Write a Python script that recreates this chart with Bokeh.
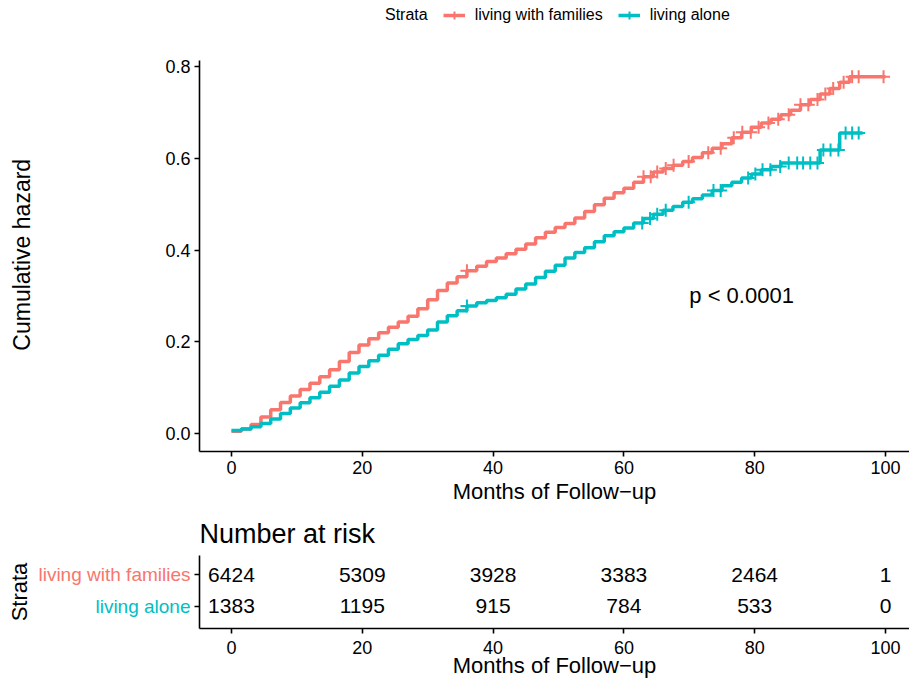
import numpy as np
from bokeh.plotting import figure
from bokeh.models import (ColumnDataSource, Legend, LegendItem, FixedTicker,
                          PrintfTickFormatter, Range1d)
from bokeh.layouts import column, row
from bokeh.embed import file_html
from bokeh.resources import INLINE
from bokeh.core.properties import value

# ---------------- data ----------------
strata = ["living with families", "living alone"]
colors = ["#F8766D", "#00BFC4"]

fam_time = [0, 1.5, 3, 4.5, 6, 7.5, 9, 10.5, 12, 13.5, 15, 16.5, 18, 19.5, 21, 22.5,
            24, 25.5, 27, 28.5, 30, 31.5, 33, 34.5, 36, 37.5, 39, 40.5, 42, 43.5, 45,
            46.5, 48, 49.5, 51, 52.5, 54, 55.5, 57, 58.5, 60, 61.5, 63, 64.5, 66, 67.5,
            69, 70.5, 72, 73.5, 75, 76.5, 78, 79.5, 81, 82.5, 84, 85.5, 87, 88.5, 90,
            91.5, 93, 94.5, 100]
fam_haz = [0.005, 0.010, 0.020, 0.036, 0.052, 0.068, 0.082, 0.096, 0.110, 0.124,
           0.139, 0.157, 0.177, 0.193, 0.207, 0.220, 0.232, 0.243, 0.256, 0.272,
           0.292, 0.312, 0.328, 0.342, 0.355, 0.365, 0.375, 0.383, 0.392, 0.402,
           0.413, 0.427, 0.439, 0.449, 0.458, 0.470, 0.484, 0.499, 0.513, 0.525,
           0.535, 0.548, 0.560, 0.570, 0.578, 0.585, 0.593, 0.602, 0.612, 0.622,
           0.632, 0.645, 0.657, 0.668, 0.677, 0.685, 0.695, 0.705, 0.717, 0.728,
           0.740, 0.752, 0.766, 0.778, 0.778]

alone_time = [0, 1.5, 3, 4.5, 6, 7.5, 9, 10.5, 12, 13.5, 15, 16.5, 18, 19.5, 21, 22.5,
              24, 25.5, 27, 28.5, 30, 31.5, 33, 34.5, 36, 37.5, 39, 40.5, 42, 43.5, 45,
              46.5, 48, 49.5, 51, 52.5, 54, 55.5, 57, 58.5, 60, 61.5, 63, 64.5, 66,
              67.5, 69, 70.5, 72, 73.5, 75, 76.5, 78, 79.5, 81, 82.5, 84, 90, 93, 96.5]
alone_haz = [0.007, 0.010, 0.015, 0.022, 0.032, 0.044, 0.056, 0.067, 0.078, 0.090,
             0.103, 0.117, 0.132, 0.146, 0.159, 0.171, 0.184, 0.196, 0.205, 0.214,
             0.226, 0.243, 0.257, 0.268, 0.278, 0.285, 0.290, 0.296, 0.304, 0.315,
             0.326, 0.340, 0.354, 0.367, 0.383, 0.395, 0.405, 0.418, 0.431, 0.440,
             0.448, 0.459, 0.469, 0.478, 0.487, 0.495, 0.504, 0.512, 0.520, 0.530,
             0.540, 0.548, 0.557, 0.566, 0.575, 0.582, 0.590, 0.618, 0.655, 0.655]

fam_censor = [36, 63, 64.1, 65.1, 66.4, 67.6, 69.9, 72.9, 74.8, 76.8, 78.1, 79.4,
              80.6, 82.1, 83.6, 85.2, 87, 88.2, 89.6, 90.8, 92, 93.6, 94.9, 95.9, 99.7]
alone_censor = [36, 62.8, 64, 65.1, 66.4, 69.9, 73.7, 74.8, 79, 80.1, 81.2, 82.4,
                83.9, 85.2, 86.5, 87.4, 88.5, 89.6, 90.5, 91.6, 92.8, 93.9, 94.9, 95.9]

risk_times = [0, 20, 40, 60, 80, 100]
fam_risk = [6424, 5309, 3928, 3383, 2464, 1]
alone_risk = [1383, 1195, 915, 784, 533, 0]
risk_rows = [2, 1]

pval_text = "p < 0.0001"
pval_x, pval_y = 70, 0.30

x_ticks = [0, 20, 40, 60, 80, 100]
y_ticks = [0.0, 0.2, 0.4, 0.6, 0.8]
x_label = "Months of Follow\u2212up"
y_label = "Cumulative hazard"
risk_title = "Number at risk"
legend_title = "Strata"

# ---------------- layout / styling ----------------
FONT = "Liberation Sans"
W, H = 909, 682
X_START, X_END = -4.89, 103.67
Y_AXIS_LO, Y_AXIS_HI = -0.039, 0.814   # drawn extent of the y axis
Y_RANGE_HI = 0.944                     # frame reaches the top (legend inside)
FRAME_LEFT = 199
TOP_H = 508
LAB_W = 193
# the frame also holds the legend strip, so the axis title is nudged down to
# the middle of the drawn axis with trailing no-break spaces
Y_LABEL_PAD = "\u00a0" * 9


def style_axes(p):
    for ax in (p.xaxis[0], p.yaxis[0]):
        ax.axis_line_color = "black"
        ax.axis_line_width = 1.6
        ax.major_tick_line_color = "black"
        ax.major_tick_line_width = 1.6
        ax.major_tick_out = 5
        ax.major_tick_in = 0
        ax.minor_tick_line_color = None
        ax.major_label_text_font = FONT
        ax.major_label_text_font_size = "18px"
        ax.major_label_text_color = "black"
        ax.major_label_text_line_height = 1.0
        ax.axis_label_text_font = FONT
        ax.axis_label_text_font_size = "22px"
        ax.axis_label_text_font_style = "normal"
        ax.axis_label_text_color = "black"
        ax.axis_label_text_line_height = 1.0
    p.xgrid.visible = False
    p.ygrid.visible = False
    p.outline_line_color = None


def step_value(times, haz, t):
    idx = np.searchsorted(np.asarray(times), np.asarray(t), side="right") - 1
    return np.asarray(haz)[idx]


# ---------------- main plot ----------------
p = figure(width=W, height=TOP_H, output_backend="svg", toolbar_location=None,
           x_range=Range1d(X_START, X_END), y_range=Range1d(Y_AXIS_LO, Y_RANGE_HI),
           min_border_left=FRAME_LEFT, min_border_right=0, min_border_top=0,
           min_border_bottom=57)
style_axes(p)
p.xaxis[0].ticker = FixedTicker(ticks=x_ticks)
p.yaxis[0].ticker = FixedTicker(ticks=y_ticks)
p.yaxis[0].bounds = (Y_AXIS_LO, Y_AXIS_HI)
p.yaxis[0].formatter = PrintfTickFormatter(format="%.1f")
p.xaxis[0].major_label_standoff = 4
p.xaxis[0].axis_label_standoff = 2
p.yaxis[0].major_label_standoff = 4
p.yaxis[0].axis_label_standoff = 127
p.yaxis[0].axis_label_text_font_size = "23px"
p.xaxis[0].axis_label = x_label
p.yaxis[0].axis_label = y_label + Y_LABEL_PAD

renderers = []
for times, haz, cens, col in ((fam_time, fam_haz, fam_censor, colors[0]),
                              (alone_time, alone_haz, alone_censor, colors[1])):
    rl = p.step(x=times, y=haz, mode="after", line_color=col, line_width=3.5)
    rc = p.scatter(x=cens, y=step_value(times, haz, cens), marker="cross",
                   size=13, line_color=col, line_width=2)
    renderers.append([rl, rc])

p.text(x=[pval_x], y=[pval_y], text=[pval_text], text_font=value(FONT),
       text_font_size="22px", text_align="left", text_baseline="middle",
       text_color="black")

items = [LegendItem(label=legend_title, renderers=[])]
items += [LegendItem(label=strata[i], renderers=renderers[i]) for i in range(2)]
legend = Legend(items=items, orientation="horizontal", location=(154, 426))
legend.label_text_font = FONT
legend.label_text_font_size = "16px"
legend.label_text_color = "black"
legend.glyph_width = 22
legend.glyph_height = 20
legend.label_height = 20
legend.label_standoff = 10
legend.spacing = 15
legend.padding = 0
legend.margin = 0
legend.border_line_color = None
legend.background_fill_alpha = 0
p.add_layout(legend, "center")

# ---------------- risk table ----------------
RISK_H = H - TOP_H
RISK_TOP, RISK_BOTTOM = 47, 54
y_rng = (0.3, 2.6)

lab = figure(width=LAB_W, height=RISK_H, output_backend="svg", toolbar_location=None,
             x_range=Range1d(0, 1), y_range=Range1d(*y_rng),
             min_border_left=35, min_border_right=0, min_border_top=RISK_TOP,
             min_border_bottom=RISK_BOTTOM)
lab.xaxis.visible = False
lab.xgrid.visible = False
lab.ygrid.visible = False
lab.outline_line_color = None
lab.yaxis[0].ticker = FixedTicker(ticks=[])
lab.yaxis[0].axis_line_color = None
lab.yaxis[0].major_tick_line_color = None
lab.yaxis[0].minor_tick_line_color = None
lab.yaxis[0].major_label_text_font_size = "0px"
lab.yaxis[0].axis_label = legend_title
lab.yaxis[0].axis_label_text_font = FONT
lab.yaxis[0].axis_label_text_font_size = "22px"
lab.yaxis[0].axis_label_text_font_style = "normal"
lab.yaxis[0].axis_label_text_color = "black"
lab.yaxis[0].axis_label_text_line_height = 1.0
lab.yaxis[0].axis_label_standoff = 4
lab_src = ColumnDataSource(dict(x=[lab.x_range.end] * 2, y=risk_rows, text=strata,
                                color=colors))
lab.text(x="x", y="y", text="text", source=lab_src, x_offset=-3,
         text_align="right", text_baseline="middle", text_color="color",
         text_font=value(FONT), text_font_size="19px")

r = figure(width=W - LAB_W, height=RISK_H, output_backend="svg",
           toolbar_location=None, x_range=Range1d(X_START, X_END),
           y_range=Range1d(*y_rng), min_border_left=FRAME_LEFT - LAB_W,
           min_border_right=0, min_border_top=RISK_TOP, min_border_bottom=RISK_BOTTOM)
style_axes(r)
r.xaxis[0].ticker = FixedTicker(ticks=x_ticks)
r.yaxis[0].ticker = FixedTicker(ticks=risk_rows)
r.yaxis[0].major_label_overrides = {1: "", 2: ""}
r.yaxis[0].major_label_standoff = 0
r.xaxis[0].major_label_standoff = 7
r.xaxis[0].axis_label_standoff = -4
r.xaxis[0].axis_label = x_label

r.title.text = risk_title
r.title.text_font = FONT
r.title.text_font_size = "27px"
r.title.text_font_style = "normal"
r.title.text_color = "black"
r.title.align = "left"
r.title.offset = 0
r.title.standoff = 14

risk_src = ColumnDataSource(dict(
    x=risk_times + risk_times,
    y=[risk_rows[0]] * len(risk_times) + [risk_rows[1]] * len(risk_times),
    text=[str(v) for v in fam_risk] + [str(v) for v in alone_risk],
))
r.text(x="x", y="y", text="text", source=risk_src, text_font=value(FONT),
       text_font_size="21px", text_align="center", text_baseline="middle",
       text_color="black")

layout = column(p, row(lab, r, spacing=0), spacing=0)
open("out.html", "w").write(file_html(layout, INLINE))
